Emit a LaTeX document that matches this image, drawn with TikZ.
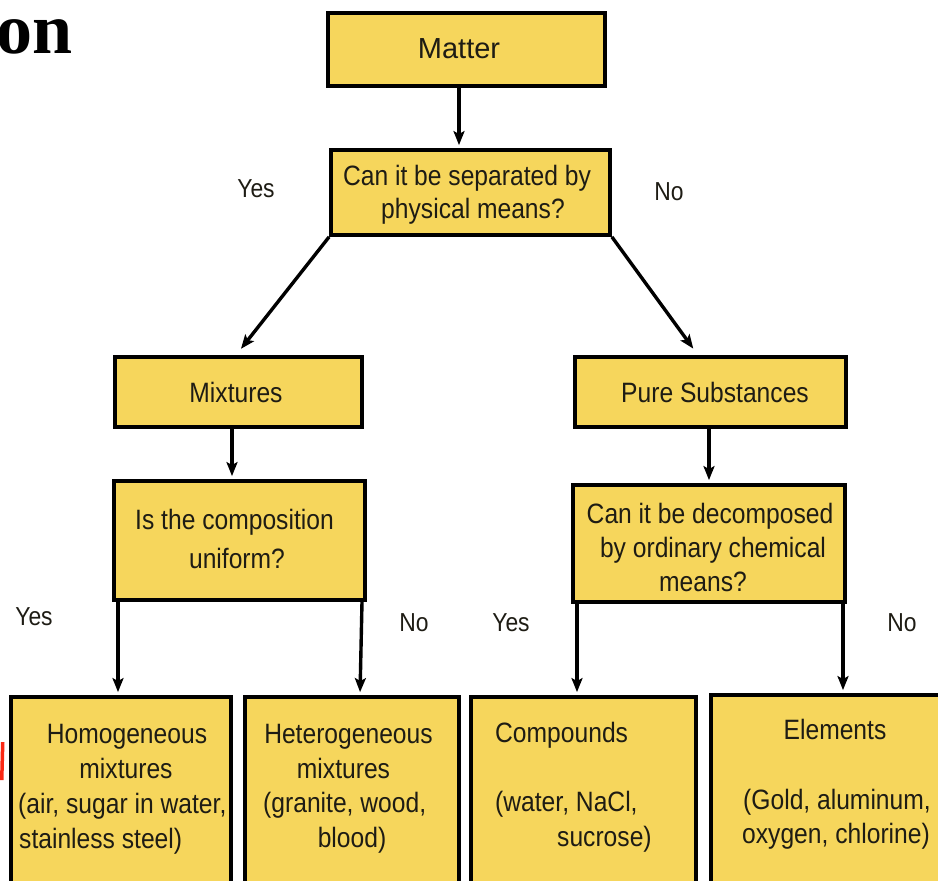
\documentclass[tikz,border=0pt]{standalone}
\usepackage{fontspec}
\setmainfont{Liberation Sans}
\newfontfamily\nf[FakeStretch=0.88]{Liberation Sans}
\newfontfamily\titlefont{Liberation Serif}
\usetikzlibrary{arrows.meta}
\definecolor{boxfill}{RGB}{246,214,92}
\definecolor{txt}{RGB}{30,28,20}
\definecolor{redmark}{RGB}{250,40,20}
\begin{document}
\begin{tikzpicture}[x=1pt,y=-1pt,
  box/.style={draw=black,line width=3.8pt,fill=boxfill,rectangle,inner sep=0pt},
  tl/.style={text=txt,inner sep=0pt,anchor=base,font=\nf\fontsize{28}{34}\selectfont},
  tll/.style={tl,anchor=base west},
  lbl/.style={text=txt,inner sep=0pt,anchor=base,font=\nf\fontsize{26}{30}\selectfont},
  arr/.style={draw=black,line width=3.4pt,shorten >=3pt,-{Stealth[length=14pt,width=11pt,inset=3pt]}}]
\useasboundingbox (0,0) rectangle (938,881);
\clip (0,0) rectangle (938,881);
% partial title and red mark at the left edge
\node[anchor=base east,inner sep=0pt,font=\titlefont\bfseries\fontsize{72}{72}\selectfont] (title) at (73,53) {on};
\coordinate (rA) at (0,780);
\coordinate (rB) at (3.5,780);
\coordinate (rC) at (4.5,742);
\coordinate (rD) at (1,742);
\fill[redmark] (rA) -- (rB) -- (rC) -- (rD) -- cycle;
% boxes
\node[box,minimum width=277pt,minimum height=73pt] (matter) at (466.5,49.5) {};
\node[box,minimum width=279pt,minimum height=85pt] (sep) at (470.5,192.5) {};
\node[box,minimum width=247pt,minimum height=70pt] (mix) at (238.5,392) {};
\node[box,minimum width=271pt,minimum height=70pt] (pure) at (710.5,392) {};
\node[box,minimum width=251pt,minimum height=119pt] (comp) at (239.5,540.5) {};
\node[box,minimum width=272pt,minimum height=117pt] (dec) at (709,543.5) {};
\node[box,minimum width=220pt,minimum height=223pt] (homog) at (121,808.5) {};
\node[box,minimum width=214pt,minimum height=223pt] (hetero) at (352,808.5) {};
\node[box,minimum width=225pt,minimum height=223pt] (compd) at (583.5,808.5) {};
\node[box,minimum width=249pt,minimum height=225pt] (elem) at (835.5,807.5) {};
% texts
\node[tl,font=\fontsize{29}{34}\selectfont] (tMatter) at (459,58) {Matter};
\node[tl] (tSep1) at (467,185) {Can it be separated by};
\node[tl] (tSep2) at (473,218) {physical means?};
\node[tl] (tMix) at (236,402) {Mixtures};
\node[tl] (tPure) at (715,402) {Pure Substances};
\node[tl] (tComp1) at (234.5,529) {Is the composition};
\node[tl] (tComp2) at (237,568) {uniform?};
\node[tl] (tDec1) at (710,523) {Can it be decomposed};
\node[tl] (tDec2) at (713,557) {by ordinary chemical};
\node[tl] (tDec3) at (703,591) {means?};
\node[tl] (tHo1) at (127,743) {Homogeneous};
\node[tl] (tHo2) at (126,778) {mixtures};
\node[tll] (tHo3) at (18,813) {(air, sugar in water,};
\node[tll] (tHo4) at (19,848) {stainless steel)};
\node[tl] (tHe1) at (348.5,743) {Heterogeneous};
\node[tl] (tHe2) at (343.5,778) {mixtures};
\node[tll] (tHe3) at (263,812) {(granite, wood,};
\node[tl] (tHe4) at (352,847) {blood)};
\node[tll] (tCo1) at (495,742) {Compounds};
\node[tll] (tCo2) at (495,811) {(water, NaCl,};
\node[tll] (tCo3) at (557,846) {sucrose)};
\node[tl] (tEl1) at (835,739) {Elements};
\node[tll] (tEl2) at (743,809) {(Gold, aluminum,};
\node[tll] (tEl3) at (742,843) {oxygen, chlorine)};
% labels
\node[lbl] (yes1) at (256,197) {Yes};
\node[lbl] (no1) at (669,200) {No};
\node[lbl] (yes2) at (34,625) {Yes};
\node[lbl] (no2) at (414,631) {No};
\node[lbl] (yes3) at (511,631) {Yes};
\node[lbl] (no3) at (902,631) {No};
% connector x positions
\coordinate (xa) at (459,0);
\coordinate (xl) at (236,0);
\coordinate (xr) at (698,0);
\coordinate (xm) at (232,0);
\coordinate (xp) at (709,0);
\coordinate (xh) at (118,0);
\coordinate (xe1) at (362,0);
\coordinate (xe2) at (360,0);
\coordinate (xc) at (577,0);
\coordinate (xel) at (843,0);
% connectors
\draw[arr] (matter.south -| xa) -- (sep.north -| xa);
\draw[arr,shorten >=8pt] (sep.south west) -- (mix.north -| xl);
\draw[arr,shorten >=8pt] (sep.south east) -- (pure.north -| xr);
\draw[arr] (mix.south -| xm) -- (comp.north -| xm);
\draw[arr] (pure.south -| xp) -- (dec.north -| xp);
\draw[arr] (comp.south -| xh) -- (homog.north -| xh);
\draw[arr] (comp.south -| xe1) -- (hetero.north -| xe2);
\draw[arr] (dec.south -| xc) -- (compd.north -| xc);
\draw[arr] (dec.south -| xel) -- (elem.north -| xel);
\end{tikzpicture}
\end{document}
